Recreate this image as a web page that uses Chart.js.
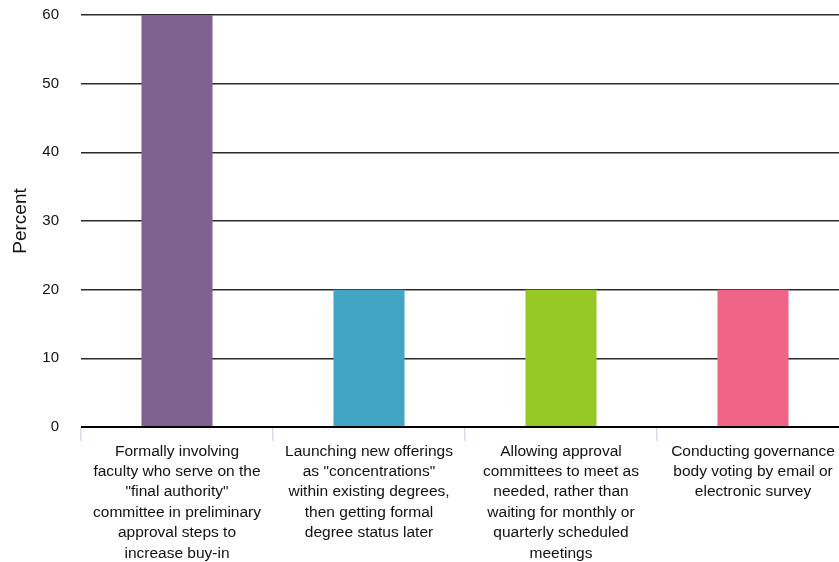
<!DOCTYPE html>
<html lang="en">
<head>
  <meta charset="utf-8">
  <title>Approval practices</title>
  <style>
    html, body { margin: 0; padding: 0; overflow: hidden; background: #fff; }
    #wrap { width: 850px; height: 562px; }
  </style>
</head>
<body>
  <div id="wrap"><canvas id="myChart"></canvas></div>

  <script src="https://cdn.jsdelivr.net/npm/chart.js@4"></script>
  <script>
    var categories = [
      ['Formally involving', 'faculty who serve on the', '"final authority"', 'committee in preliminary', 'approval steps to', 'increase buy-in'],
      ['Launching new offerings', 'as "concentrations"', 'within existing degrees,', 'then getting formal', 'degree status later'],
      ['Allowing approval', 'committees to meet as', 'needed, rather than', 'waiting for monthly or', 'quarterly scheduled', 'meetings'],
      ['Conducting governance', 'body voting by email or', 'electronic survey']
    ];
    var percentValues = [60, 20, 20, 20];
    var barColors = ['#7d618f', '#42a5c4', '#97c925', '#f06487'];
    var yTicks = [0, 10, 20, 30, 40, 50, 60];

    var ctx = document.getElementById('myChart').getContext('2d');
    var chart = new Chart(ctx, {
      type: 'bar',
      data: {
        labels: categories,
        datasets: [{
          label: 'Percent',
          data: percentValues,
          backgroundColor: barColors,
          borderWidth: 0,
          categoryPercentage: 1,
          barPercentage: 0.37
        }]
      },
      options: {
        responsive: true,
        maintainAspectRatio: false,
        animation: false,
        layout: { padding: { top: 15, right: 1, left: 0, bottom: 0 } },
        plugins: {
          legend: { display: false },
          tooltip: { enabled: false }
        },
        scales: {
          x: {
            offset: true,
            border: { display: false },
            grid: {
              offset: true,
              drawOnChartArea: false,
              drawTicks: true,
              tickLength: 14,
              color: '#d3dcea',
              lineWidth: 1.5
            },
            ticks: {
              autoSkip: false,
              maxRotation: 0,
              minRotation: 0,
              padding: 0,
              color: '#111',
              font: { family: '"Liberation Sans", Arial, sans-serif', size: 15.5, lineHeight: 1.32 }
            },
            afterFit: function(scale) { scale.height = 135; }
          },
          y: {
            min: 0,
            max: 60,
            border: { display: false },
            grid: {
              drawTicks: false,
              color: function(c) { return c.tick && c.tick.value === 0 ? '#000' : '#2a2a2a'; },
              lineWidth: function(c) { return c.tick && c.tick.value === 0 ? 2 : 1.5; }
            },
            afterBuildTicks: function(scale) {
              scale.ticks = yTicks.map(function(v) { return { value: v }; });
            },
            ticks: {
              padding: 22,
              color: '#111',
              font: { family: '"Liberation Sans", Arial, sans-serif', size: 15 }
            },
            title: {
              display: true,
              text: 'Percent',
              color: '#111',
              padding: { top: 9, bottom: 0 },
              font: { family: '"Liberation Sans", Arial, sans-serif', size: 19 }
            },
            afterFit: function(scale) {
              scale.width = 81;
              scale.paddingTop = 0;
              scale.paddingBottom = 0;
            }
          }
        }
      }
    });
  </script>
</body>
</html>
